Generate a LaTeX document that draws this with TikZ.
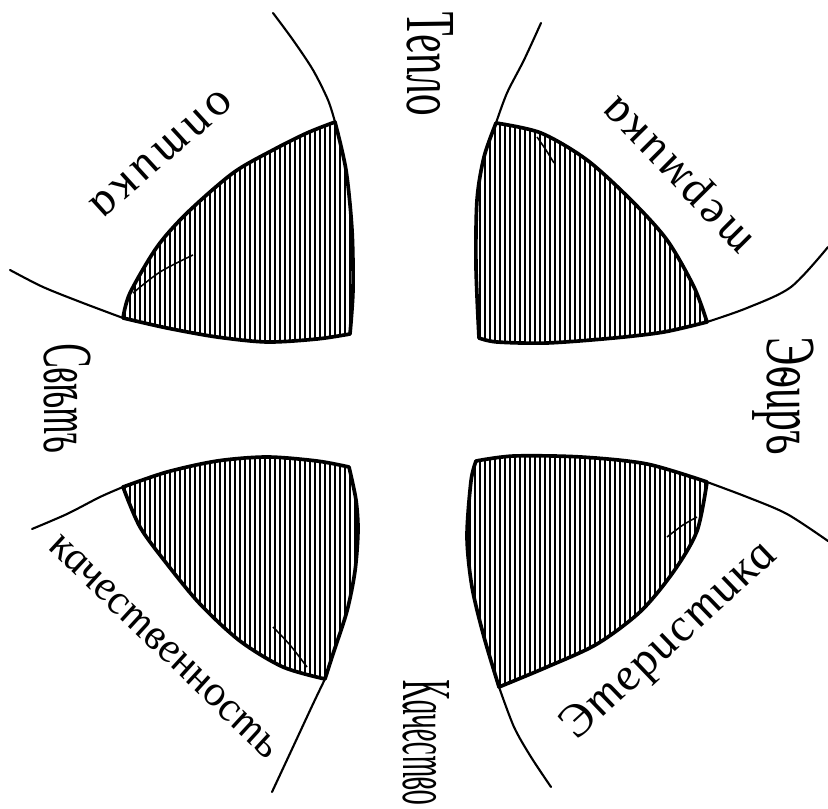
\documentclass[tikz,border=0pt]{standalone}
\usepackage{fontspec}
\newfontfamily\handfont[FakeSlant=-0.2]{Liberation Serif}

\begin{document}
\begin{tikzpicture}[x=0.25mm, y=-0.25mm,
  rim/.style={line width=1.5pt, line cap=round},
  petal/.style={line width=2.6pt, line join=round,
    path picture={\foreach \hx in {0,5,...,830} \draw[line width=1.7pt] (\hx,0) -- (\hx,809);}},
  crack/.style={line width=1.1pt},
  tallword/.style={font=\handfont\itshape\fontsize{50}{50}\selectfont, inner sep=0pt, rotate=-90},
  arcword/.style={font=\handfont\itshape\fontsize{34}{34}\selectfont, inner sep=0pt}]

\useasboundingbox (0,0) rectangle (828,809);

% =========================
% TOP LEFT
% =========================
\draw[rim] plot[smooth] coordinates {(273,13) (293,40) (313,70) (328,100) (335,122)};
\draw[rim] plot[smooth] coordinates {(10,270) (43,287) (83,303) (123,318)};

\draw[petal] plot[smooth] coordinates {(335,122) (346,170) (352,230) (353,290) (350,334)}
  -- plot[smooth] coordinates {(350,334) (317,339) (267,342) (217,337) (167,328) (123,318)}
  -- plot[smooth] coordinates {(123,318) (130,293) (157,247) (187,213) (233,173) (273,150) (307,133) (335,122)}
  -- cycle;
\draw[crack] plot[smooth] coordinates {(133,293) (160,272) (193,255)};

\node[arcword, rotate=221] (optika) at (160,155) {\addfontfeature{LetterSpace=10}оптика};

% =========================
% TOP RIGHT
% =========================
\draw[rim] plot[smooth] coordinates {(541,23) (524,60) (507,93) (496,123)};
\draw[rim] plot[smooth] coordinates {(707,322) (747,308) (791,287) (828,247)};

\draw[petal] plot[smooth] coordinates {(496,123) (484,157) (477,200) (476,267) (479,338)}
  -- plot[smooth] coordinates {(479,338) (497,342) (547,343) (614,338) (664,332) (707,322)}
  -- plot[smooth] coordinates {(707,322) (694,287) (667,240) (631,200) (587,160) (541,133) (496,123)}
  -- cycle;
\draw[crack] plot[smooth] coordinates {(537,137) (546,150) (554,163)};

\node[arcword, rotate=133.5] (termika) at (680,170) {\addfontfeature{LetterSpace=8}термика};

% =========================
% BOTTOM LEFT
% =========================
\draw[rim] plot[smooth] coordinates {(32,529) (67,514) (100,497) (123,487)};
\draw[rim] plot[smooth] coordinates {(325,679) (313,704) (293,747) (272,792)};

\draw[petal] plot[smooth] coordinates {(123,487) (167,472) (217,461) (267,457) (317,461) (349,467)}
  -- plot[smooth] coordinates {(349,467) (356,500) (358,531) (355,571) (347,611) (333,654) (325,679)}
  -- plot[smooth] coordinates {(325,679) (283,667) (240,641) (200,604) (167,564) (140,527) (123,487)}
  -- cycle;
\draw[crack] plot[smooth] coordinates {(273,627) (290,645) (307,667)};

\node[arcword, font=\handfont\itshape\fontsize{31}{31}\selectfont, rotate=-44] (kachestvennost) at (165,648) {качественность};

% =========================
% BOTTOM RIGHT
% =========================
\draw[rim] plot[smooth] coordinates {(707,482) (747,497) (787,514) (828,541)};
\draw[rim] plot[smooth] coordinates {(499,687) (514,727) (531,757) (551,787)};

\draw[petal] plot[smooth] coordinates {(476,461) (514,456) (581,457) (647,464) (707,482)}
  -- plot[smooth] coordinates {(707,482) (697,531) (674,571) (641,611) (597,644) (547,667) (499,687)}
  -- plot[smooth] coordinates {(499,687) (484,637) (472,587) (467,537) (471,481) (476,461)}
  -- cycle;
\draw[crack] plot[smooth] coordinates {(667,537) (683,525) (697,517)};

\node[arcword, rotate=42.5] (eteristika) at (672,640) {\addfontfeature{LetterSpace=3}Этеристика};

% =========================
% CROSS LABELS
% =========================
\node[tallword, xscale=0.61] (teplo) at (430,66) {Тепло};
\node[tallword, xscale=0.515] (svet) at (67,400) {Свѣтъ};
\node[tallword, xscale=0.62] (efir) at (783,398) {Эѳиръ};
\node[tallword, xscale=0.43] (kachestvo) at (426,744) {Качество};

\end{tikzpicture}
\end{document}
